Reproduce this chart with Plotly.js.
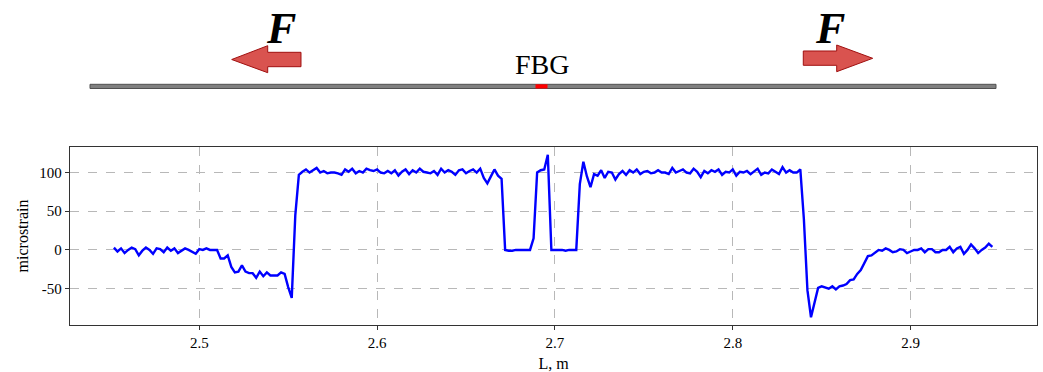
<!DOCTYPE html>
<html>
<head>
<meta charset="utf-8">
<script src="https://cdn.plot.ly/plotly-3.0.1.min.js"></script>
<style>html,body{margin:0;padding:0;background:#fff;}#chart{width:1043px;height:372px;}</style>
</head>
<body>
<div id="chart"></div>
<script>
// ---- Data ----
const L_start = 2.452;   // m, first sample position
const L_step = 0.002;    // m, sample spacing
const strain = [
  3, -2, 2, -4, 0, 3, 1, -7, -1, 3,
  0, -5, 2, 1, -3, 3, -1, 2, -4, -1,
  2, 0, -3, -5, 1, 0, 2, 0, 0, 0,
  -11, -11, -7, -22, -29, -28, -20, -28, -30, -30,
  -36, -28, -34, -29, -33, -33, -33, -29, -31, -48,
  -62, 45, 97, 101, 104, 100, 103, 106, 100, 102,
  99, 100, 100, 99, 97, 104, 101, 105, 99, 102,
  100, 105, 103, 102, 104, 100, 99, 102, 99, 103,
  96, 101, 104, 98, 103, 100, 105, 101, 100, 99,
  102, 97, 105, 100, 103, 101, 97, 103, 104, 99,
  102, 104, 100, 105, 93, 86, 95, 104, 96, 92,
  0, -1, -1, 0, 0, 0, 0, 0, 15, 100,
  103, 104, 123, 0, 0, 0, 0, -1, 0, 0,
  0, 85, 114, 95, 81, 98, 96, 103, 93, 101,
  100, 91, 98, 102, 97, 103, 100, 104, 98, 101,
  102, 99, 100, 103, 100, 100, 98, 106, 100, 102,
  104, 100, 99, 105, 101, 94, 102, 99, 103, 101,
  104, 97, 101, 100, 104, 96, 101, 100, 102, 98,
  101, 105, 97, 100, 99, 104, 101, 98, 107, 100,
  103, 100, 100, 104, 40, -52, -87, -66, -49, -47,
  -48, -50, -47, -51, -47, -46, -44, -39, -38, -31,
  -26, -17, -8, -7, -3, 0, -1, 2, 0, -3,
  -2, 1, 0, -4, -2, 0, 0, 2, -3, 1,
  1, -3, -3, 0, 0, 4, -3, 2, 4, -5,
  0, 7, 2, -4, 0, 3, 8, 4
];
const L_pos = strain.map((_, i) => +(L_start + i * L_step).toFixed(4));
const xTicks = [2.5, 2.6, 2.7, 2.8, 2.9];
const yTicks = [-50, 0, 50, 100];
const xLabel = 'L, m';
const yLabel = 'microstrain';
const forceLabel = 'F';
const sensorLabel = 'FBG';

// ---- Layout geometry (pixels) ----
const W = 1043, H = 372;
const M = {l: 70, r: 6, t: 147, b: 47};
const plotW = W - M.l - M.r, plotH = H - M.t - M.b;
const px = x => (x - M.l) / plotW;     // pixel x -> paper x
const py = y => (H - M.b - y) / plotH; // pixel y -> paper y
const pathFrom = pts => 'M ' + pts.map(p => px(p[0]).toFixed(5) + ',' + py(p[1]).toFixed(5)).join(' L ') + ' Z';

const serif = 'Liberation Serif';
const arrowFill = '#d9534f', arrowEdge = '#a01010';

const leftArrow = [[231.7,59.5],[267.7,45.7],[267.7,52.3],[301,52.3],[301,66.7],[267.7,66.7],[267.7,72.7]];
const rightArrow = [[872.7,58.3],[836.7,45],[836.7,51],[803.3,51],[803.3,65.3],[836.7,65.3],[836.7,71.7]];

const shapes = [
  {type:'rect', xref:'paper', yref:'paper', x0:px(90), x1:px(996), y0:py(84.3), y1:py(88.5),
   fillcolor:'#808080', line:{color:'#505050', width:1}, layer:'above'},
  {type:'rect', xref:'paper', yref:'paper', x0:px(535.5), x1:px(547.5), y0:py(84.3), y1:py(88.5),
   fillcolor:'#ff0000', line:{width:0}, layer:'above'},
  {type:'path', xref:'paper', yref:'paper', path:pathFrom(leftArrow),
   fillcolor:arrowFill, line:{color:arrowEdge, width:1}, layer:'above'},
  {type:'path', xref:'paper', yref:'paper', path:pathFrom(rightArrow),
   fillcolor:arrowFill, line:{color:arrowEdge, width:1}, layer:'above'}
];

const annotations = [
  {xref:'paper', yref:'paper', x:px(281), y:py(29), text:'<b><i>'+forceLabel+'</i></b>', showarrow:false,
   xanchor:'center', yanchor:'middle', font:{family:serif, size:44, color:'#000'}},
  {xref:'paper', yref:'paper', x:px(830), y:py(29), text:'<b><i>'+forceLabel+'</i></b>', showarrow:false,
   xanchor:'center', yanchor:'middle', font:{family:serif, size:44, color:'#000'}},
  {xref:'paper', yref:'paper', x:px(542), y:py(64), text:sensorLabel, showarrow:false,
   xanchor:'center', yanchor:'middle', font:{family:serif, size:28, color:'#000'}}
];

const trace = {
  x: L_pos, y: strain, type:'scatter', mode:'lines',
  line:{color:'#0000ff', width:2.4}, hoverinfo:'x+y', showlegend:false
};

function makeAxis(extra) {
  return Object.assign({
    showline:true, mirror:true, linecolor:'#333', linewidth:1.3,
    showgrid:true, gridcolor:'#b8b8b8', griddash:'dash', gridwidth:1,
    zeroline:false, ticks:'outside', ticklen:4, tickcolor:'#333',
    tickfont:{family:'Liberation Serif, serif', size:15, color:'#000', weight:'normal', style:'normal'}
  }, extra);
}

const layout = {
  width:W, height:H,
  margin:M,
  font:{family:serif, size:15, color:'#000'},
  paper_bgcolor:'#fff', plot_bgcolor:'#fff',
  xaxis: makeAxis({
    range:[2.4273, 2.9711], tickmode:'array', tickvals:xTicks, ticktext:xTicks.map(v=>v.toFixed(1)),
    title:{text:xLabel, font:{family:serif, size:16, color:'#000'}, standoff:8}
  }),
  yaxis: makeAxis({
    range:[-97, 133], tickmode:'array', tickvals:yTicks, ticktext:yTicks.map(String),
    title:{text:yLabel, font:{family:serif, size:16, color:'#000'}, standoff:6}
  }),
  shapes: shapes,
  annotations: annotations
};

Plotly.newPlot('chart', [trace], layout, {displayModeBar:false, staticPlot:true});
</script>
</body>
</html>
